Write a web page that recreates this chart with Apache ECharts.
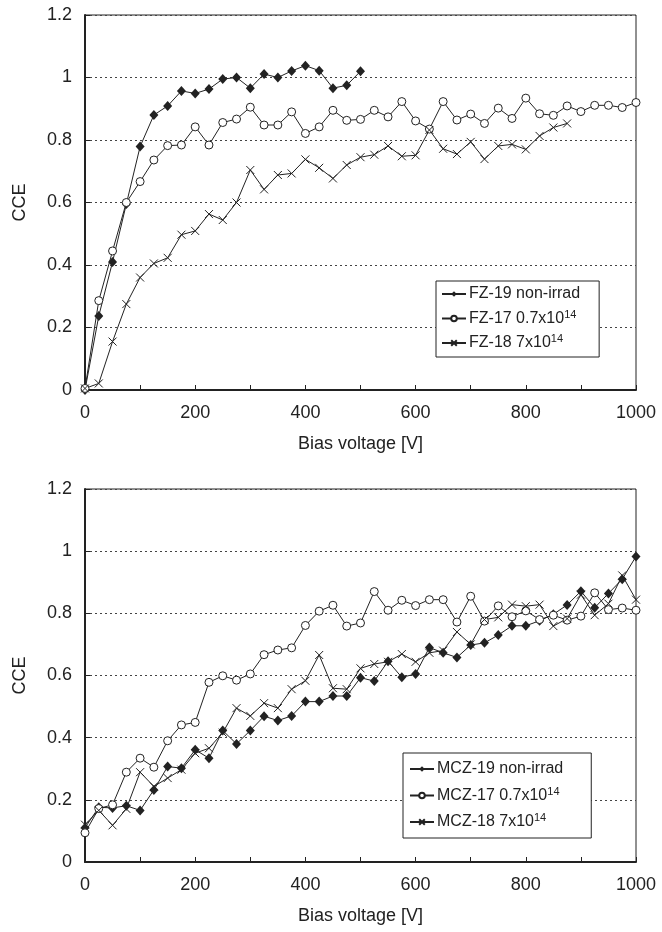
<!DOCTYPE html>
<html>
<head>
<meta charset="utf-8">
<script src="https://cdn.jsdelivr.net/npm/echarts@6/dist/echarts.min.js"></script>
<style>
  html, body { margin: 0; padding: 0; background: #fff; }
  #chart { width: 662px; height: 932px; }
</style>
</head>
<body>
<div id="chart"></div>
<script>
// bias voltage steps [V]
const volts = [0, 25, 50, 75, 100, 125, 150, 175, 200, 225, 250, 275, 300, 325, 350, 375, 400,
  425, 450, 475, 500, 525, 550, 575, 600, 625, 650, 675, 700, 725, 750, 775, 800, 825, 850,
  875, 900, 925, 950, 975, 1000];
const xTicks = [0, 200, 400, 600, 800, 1000];
const yTicks = [0, 0.2, 0.4, 0.6, 0.8, 1, 1.2];

// top panel (FZ)
const fz19 = [0, 0.237, 0.41, 0.595, 0.779, 0.88, 0.909, 0.957, 0.949, 0.963, 0.995, 1.0, 0.966,
  1.011, 1.0, 1.021, 1.038, 1.022, 0.966, 0.975, 1.02];
const fz17 = [0.005, 0.286, 0.445, 0.6, 0.667, 0.736, 0.782, 0.784, 0.842, 0.784, 0.856, 0.867,
  0.905, 0.848, 0.848, 0.89, 0.821, 0.842, 0.895, 0.863, 0.866, 0.895, 0.874, 0.923, 0.861,
  0.835, 0.923, 0.864, 0.883, 0.853, 0.902, 0.869, 0.934, 0.884, 0.879, 0.909, 0.891, 0.911,
  0.911, 0.904, 0.92];
const fz18 = [0.005, 0.021, 0.155, 0.275, 0.36, 0.405, 0.423, 0.497, 0.509, 0.563, 0.544, 0.6,
  0.704, 0.642, 0.688, 0.693, 0.738, 0.711, 0.677, 0.72, 0.745, 0.753, 0.781, 0.748, 0.751,
  0.832, 0.772, 0.755, 0.794, 0.739, 0.781, 0.786, 0.77, 0.813, 0.84, 0.853];

// bottom panel (MCZ)
const mcz19 = [0.11, 0.176, 0.174, 0.181, 0.166, 0.232, 0.307, 0.302, 0.361, 0.334, 0.423, 0.38,
  0.423, 0.469, 0.455, 0.47, 0.516, 0.516, 0.534, 0.534, 0.593, 0.582, 0.646, 0.594, 0.605,
  0.69, 0.673, 0.658, 0.698, 0.705, 0.73, 0.76, 0.76, 0.776, 0.797, 0.827, 0.871, 0.818, 0.864,
  0.91, 0.983];
const mcz17 = [0.094, 0.172, 0.184, 0.289, 0.334, 0.305, 0.39, 0.441, 0.449, 0.578, 0.599, 0.585,
  0.605, 0.667, 0.682, 0.689, 0.761, 0.807, 0.826, 0.759, 0.769, 0.87, 0.81, 0.842, 0.825,
  0.844, 0.844, 0.772, 0.855, 0.775, 0.824, 0.789, 0.808, 0.78, 0.794, 0.778, 0.791, 0.866,
  0.812, 0.817, 0.81];
const mcz18 = [0.12, 0.166, 0.118, 0.171, 0.289, 0.243, 0.27, 0.297, 0.35, 0.366, 0.416, 0.495,
  0.47, 0.511, 0.495, 0.556, 0.583, 0.666, 0.559, 0.556, 0.623, 0.637, 0.644, 0.669, 0.644,
  0.673, 0.68, 0.74, 0.70, 0.78, 0.787, 0.828, 0.823, 0.828, 0.759, 0.783, 0.86, 0.794, 0.831,
  0.922, 0.844];

const names = {
  fz19: "FZ-19 non-irrad", fz17: "FZ-17 0.7x10{sup|14}", fz18: "FZ-18 7x10{sup|14}",
  mcz19: "MCZ-19 non-irrad", mcz17: "MCZ-17 0.7x10{sup|14}", mcz18: "MCZ-18 7x10{sup|14}"
};

const ink = "#222";
const font = "Liberation Sans, Arial, sans-serif";
const crossPath = "path://M0,0L10,10M10,0L0,10";

function pairs(vals) {
  return vals.map((v, i) => [volts[i], v]);
}

function makeSeries(name, vals, kind, idx) {
  let s = {
    name: name,
    type: "line",
    xAxisIndex: idx,
    yAxisIndex: idx,
    data: pairs(vals),
    lineStyle: { color: ink, width: 1 },
    emphasis: { disabled: true },
    animation: false
  };
  if (kind == "diamond") {
    s.symbol = "diamond";
    s.symbolSize = [9, 10];
    s.itemStyle = { color: ink, borderColor: ink, borderWidth: 0 };
  } else if (kind == "circle") {
    s.symbol = "circle";
    s.symbolSize = 8;
    s.itemStyle = { color: "#fff", borderColor: ink, borderWidth: 1 };
  } else {
    s.symbol = crossPath;
    s.symbolSize = 8;
    s.itemStyle = { color: "none", borderColor: ink, borderWidth: 1 };
  }
  return s;
}

function xAxisOf(idx) {
  return {
    type: "value", gridIndex: idx, min: 0, max: 1000, interval: 100,
    name: "Bias voltage [V]", nameLocation: "middle", nameGap: 45,
    nameTextStyle: { color: ink, fontSize: 18, fontFamily: font },
    axisLine: { lineStyle: { color: ink, width: 2 } },
    axisTick: { inside: true, length: 5, lineStyle: { color: ink } },
    axisLabel: {
      color: ink, fontSize: 18, fontFamily: font, margin: 14,
      formatter: v => (xTicks.indexOf(v) >= 0 ? String(v) : "")
    },
    splitLine: { show: false }
  };
}

function yAxisOf(idx) {
  return {
    type: "value", gridIndex: idx, min: 0, max: 1.2, interval: 0.2,
    name: "CCE", nameLocation: "middle", nameGap: 56,
    nameTextStyle: { color: ink, fontSize: 18, fontFamily: font },
    axisLine: { lineStyle: { color: ink, width: 2 } },
    axisTick: { inside: true, length: 5, lineStyle: { color: ink } },
    axisLabel: {
      color: ink, fontSize: 18, fontFamily: font, margin: 13,
      formatter: v => String(yTicks.find(t => Math.abs(t - v) < 1e-6))
    },
    splitLine: { show: true, lineStyle: { color: "#444", type: [2, 3], width: 1 } }
  };
}

function legendOf(list, left, top, gap, pad) {
  return {
    data: list,
    orient: "vertical",
    left: left, top: top,
    itemWidth: 24, itemHeight: 7, itemGap: gap,
    padding: pad,
    borderColor: ink, borderWidth: 1,
    backgroundColor: "#fff",
    textStyle: {
      color: ink, fontSize: 16, fontFamily: font, padding: [0, 0, 0, -2],
      rich: { sup: { fontSize: 11, verticalAlign: "top", padding: [0, 0, 8, 0] } }
    },
    selectedMode: false
  };
}

let myChart = echarts.init(document.getElementById("chart"));
myChart.setOption({
  backgroundColor: "#fff",
  animation: false,
  grid: [
    { left: 85, top: 15, width: 551, height: 375, show: true, borderColor: ink, borderWidth: 1 },
    { left: 85, top: 489, width: 551, height: 373, show: true, borderColor: ink, borderWidth: 1 }
  ],
  xAxis: [xAxisOf(0), xAxisOf(1)],
  yAxis: [yAxisOf(0), yAxisOf(1)],
  legend: [
    legendOf([names.fz19, names.fz17, names.fz18], 436, 281, 7, [5, 19, 6, 5]),
    legendOf([names.mcz19, names.mcz17, names.mcz18], 403, 753, 9, [8, 28, 8, 6])
  ],
  series: [
    makeSeries(names.fz19, fz19, "diamond", 0),
    makeSeries(names.fz17, fz17, "circle", 0),
    makeSeries(names.fz18, fz18, "cross", 0),
    makeSeries(names.mcz19, mcz19, "diamond", 1),
    makeSeries(names.mcz17, mcz17, "circle", 1),
    makeSeries(names.mcz18, mcz18, "cross", 1)
  ]
});
</script>
</body>
</html>
